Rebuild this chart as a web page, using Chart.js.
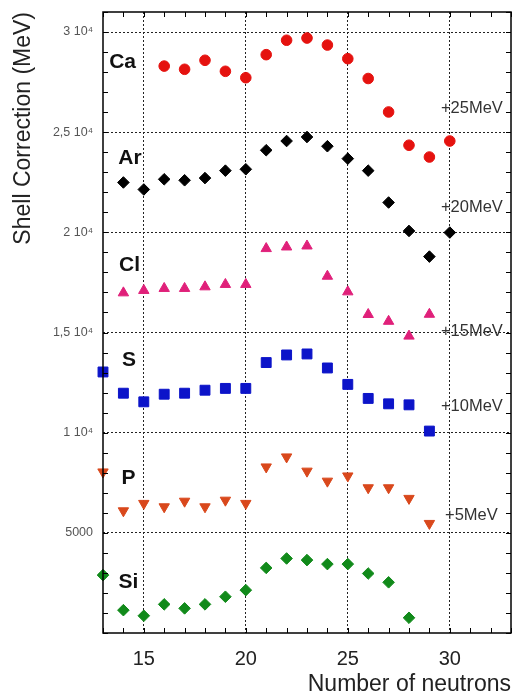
<!DOCTYPE html>
<html>
<head>
<meta charset="utf-8">
<script src="https://cdn.jsdelivr.net/npm/chart.js@4.4.1/dist/chart.umd.min.js"></script>
<style>
  html, body { margin: 0; padding: 0; background: #fff; }
  #wrap { width: 513px; height: 698px; }
</style>
</head>
<body>
<div id="wrap"><canvas id="shell"></canvas></div>
<script>
// neutron numbers on the x axis
const neutrons = [13, 14, 15, 16, 17, 18, 19, 20, 21, 22, 23, 24, 25, 26, 27, 28, 29, 30];

// shell correction values (MeV), already shifted by the offsets in the plot
const ca = [null, null, null, 28300, 28140, 28590, 28040, 27720, 28870, 29590, 29700, 29350, 28670, 27680, 26010, 24350, 23760, 24560];
const ar = [null, 22490, 22140, 22650, 22600, 22710, 23080, 23150, 24100, 24560, 24760, 24300, 23680, 23080, 21490, 20070, 18790, 19990];
const cl = [null, 16980, 17100, 17200, 17200, 17280, 17400, 17400, 19190, 19270, 19320, 17810, 17030, 15900, 15560, 14820, 15910, null];
const s  = [13030, 11970, 11540, 11920, 11970, 12120, 12210, 12210, 13500, 13880, 13930, 13230, 12410, 11710, 11440, 11390, 10080, null];
const p  = [8040, 6100, 6470, 6300, 6580, 6300, 6630, 6470, 8290, 8790, 8080, 7580, 7840, 7250, 7250, 6720, 5470, null];
const si = [2890, 1140, 860, 1430, 1230, 1430, 1810, 2140, 3250, 3720, 3640, 3440, 3440, 2970, 2530, 760, null, null];

// tick labels
const yTickValues = [5000, 10000, 15000, 20000, 25000, 30000];
const yTickLabels = ['5000', '1 10⁴', '1,5 10⁴', '2 10⁴', '2,5 10⁴', '3 10⁴'];
const xTickValues = [15, 20, 25, 30];

// element names and offsets written inside the plot
const elements = ['Ca', 'Ar', 'Cl', 'S', 'P', 'Si'];
const elementX = [13.96, 14.32, 14.3, 14.27, 14.25, 14.25];
const elementY = [28490, 23700, 18360, 13620, 7730, 2540];
const offsets = ['+25MeV', '+20MeV', '+15MeV', '+10MeV', '+5MeV'];
const offsetX = [32.6, 32.6, 32.6, 32.6, 32.35];
const offsetY = [26190, 21250, 15070, 11290, 5880];

const FONT = '"Liberation Sans", Arial, sans-serif';
const pts = arr => neutrons.map((n, i) => ({ x: n, y: arr[i] }));

function series(label, arr, style, color, radius, rotation) {
  return {
    label: label,
    data: pts(arr),
    showLine: false,
    pointStyle: style,
    pointRotation: rotation || 0,
    pointRadius: radius,
    pointHoverRadius: radius,
    pointBackgroundColor: color,
    pointBorderColor: color,
    pointBorderWidth: 1,
    clip: false
  };
}

// inward tick marks on all four sides + frame, plus the text labels
const framePlugin = {
  id: 'frame',
  afterDraw(chart) {
    const c = chart.ctx, a = chart.chartArea;
    const xs = chart.scales.x, ys = chart.scales.y;
    c.save();
    c.strokeStyle = '#000';
    c.lineWidth = 1;
    c.beginPath();
    for (let v = 13; v <= 33; v++) {
      const px = Math.round(xs.getPixelForValue(v)) + 0.5;
      c.moveTo(px, a.bottom); c.lineTo(px, a.bottom - 5);
      c.moveTo(px, a.top); c.lineTo(px, a.top + 5);
    }
    for (let v = 0; v <= 31000; v += 1000) {
      const py = Math.round(ys.getPixelForValue(v)) + 0.5;
      c.moveTo(a.left, py); c.lineTo(a.left + 5, py);
      c.moveTo(a.right, py); c.lineTo(a.right - 5, py);
    }
    c.stroke();
    c.lineWidth = 1.5;
    c.strokeRect(a.left, a.top, a.right - a.left, a.bottom - a.top);

    c.fillStyle = '#111';
    c.font = 'bold 21px ' + FONT;
    c.textAlign = 'center';
    c.textBaseline = 'middle';
    elements.forEach((t, i) => {
      c.fillText(t, xs.getPixelForValue(elementX[i]), ys.getPixelForValue(elementY[i]));
    });
    c.fillStyle = '#333';
    c.font = '16.5px ' + FONT;
    c.textAlign = 'right';
    offsets.forEach((t, i) => {
      c.fillText(t, xs.getPixelForValue(offsetX[i]), ys.getPixelForValue(offsetY[i]));
    });
    c.restore();
  }
};

new Chart(document.getElementById('shell'), {
  type: 'scatter',
  data: {
    datasets: [
      series('Ca', ca, 'circle', '#e5120f', 5.3),
      series('Ar', ar, 'rectRot', '#000000', 5.8),
      series('Cl', cl, 'triangle', '#e0207a', 6),
      series('S', s, 'rect', '#0c14c9', 7),
      series('P', p, 'triangle', '#d9481c', 6, 180),
      series('Si', si, 'rectRot', '#118a1a', 5.8)
    ]
  },
  options: {
    responsive: true,
    maintainAspectRatio: false,
    animation: false,
    // no extra room for point radius, the frame sits right at the canvas edge
    layout: { autoPadding: false, padding: { top: 12, right: 2, left: 0, bottom: 0 } },
    plugins: {
      legend: { display: false },
      tooltip: { enabled: false }
    },
    scales: {
      x: {
        type: 'linear',
        min: 13,
        max: 33,
        afterFit(scale) {
          scale.height = 65;
          scale.paddingLeft = 0;
          scale.paddingRight = 0;
        },
        border: { display: false, dash: [2, 2] },
        grid: {
          drawTicks: true,
          tickLength: 14,
          tickColor: 'rgba(0,0,0,0)',
          lineWidth: 1,
          color: ctx => xTickValues.includes(ctx.tick.value) ? '#222' : 'rgba(0,0,0,0)'
        },
        ticks: {
          stepSize: 1,
          autoSkip: false,
          maxRotation: 0,
          padding: 0,
          color: '#222',
          font: { family: FONT, size: 20 },
          callback: v => xTickValues.includes(v) ? String(v) : ''
        },
        title: {
          display: true,
          text: 'Number of neutrons',
          align: 'end',
          color: '#222',
          padding: { top: 0, bottom: 0 },
          font: { family: FONT, size: 23 }
        }
      },
      y: {
        type: 'linear',
        min: 0,
        max: 31000,
        afterFit(scale) {
          scale.width = 103;
          scale.paddingTop = 0;
          scale.paddingBottom = 0;
        },
        border: { display: false, dash: [2, 2] },
        grid: {
          drawTicks: true,
          tickLength: 10,
          tickColor: 'rgba(0,0,0,0)',
          lineWidth: 1,
          color: ctx => yTickValues.includes(ctx.tick.value) ? '#222' : 'rgba(0,0,0,0)'
        },
        ticks: {
          stepSize: 1000,
          autoSkip: false,
          padding: 0,
          color: '#555',
          font: { family: FONT, size: 12.5 },
          callback: v => {
            const i = yTickValues.indexOf(v);
            return i >= 0 ? yTickLabels[i] : '';
          }
        },
        title: {
          display: true,
          text: 'Shell Correction (MeV)',
          align: 'end',
          color: '#222',
          padding: { top: 10, bottom: 0 },
          font: { family: FONT, size: 23 }
        }
      }
    }
  },
  plugins: [framePlugin]
});
</script>
</body>
</html>
